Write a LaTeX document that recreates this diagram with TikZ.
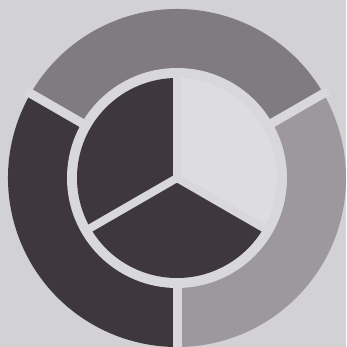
\documentclass[tikz,border=0pt]{standalone}
\definecolor{bgc}{HTML}{D2D1D4}
\definecolor{gapc}{HTML}{D8D7DA}
\definecolor{darkc}{HTML}{3E383D}
\definecolor{topc}{HTML}{807B81}
\definecolor{rightc}{HTML}{9C989D}
\definecolor{lightc}{HTML}{DDDCDE}
\tikzset{
  sep/.style={draw=gapc, line width=9pt},
  psep/.style={draw=gapc, line width=8pt}
}
\begin{document}
\begin{tikzpicture}[x=1pt,y=1pt]
\fill[bgc] (0,0) rectangle (346,347);
\useasboundingbox (0,0) rectangle (346,347);
\coordinate (C) at (177,169);
% outer ring sectors
\fill[topc] (C) -- ++(30:169) arc[start angle=30,end angle=150,radius=169] -- cycle;
\fill[darkc] (C) -- ++(150:169) arc[start angle=150,end angle=270,radius=169] -- cycle;
\fill[rightc] (C) -- ++(270:169) arc[start angle=270,end angle=390,radius=169] -- cycle;
% ring separators
\draw[sep] (C) -- ++(30:175);
\draw[sep] (C) -- ++(150:175);
\draw[sep] (C) -- ++(270:175);
% gap disc
\fill[gapc] (C) circle[radius=110];
% inner pie
\fill[darkc] (C) -- ++(90:100) arc[start angle=90,end angle=210,radius=100] -- cycle;
\fill[darkc] (C) -- ++(210:100) arc[start angle=210,end angle=330,radius=100] -- cycle;
\fill[lightc] (C) -- ++(-30:100) arc[start angle=-30,end angle=90,radius=100] -- cycle;
% pie separators
\draw[psep] (C) -- ++(90:101);
\draw[psep] (C) -- ++(210:101);
\draw[psep] (C) -- ++(330:101);
\end{tikzpicture}
\end{document}
